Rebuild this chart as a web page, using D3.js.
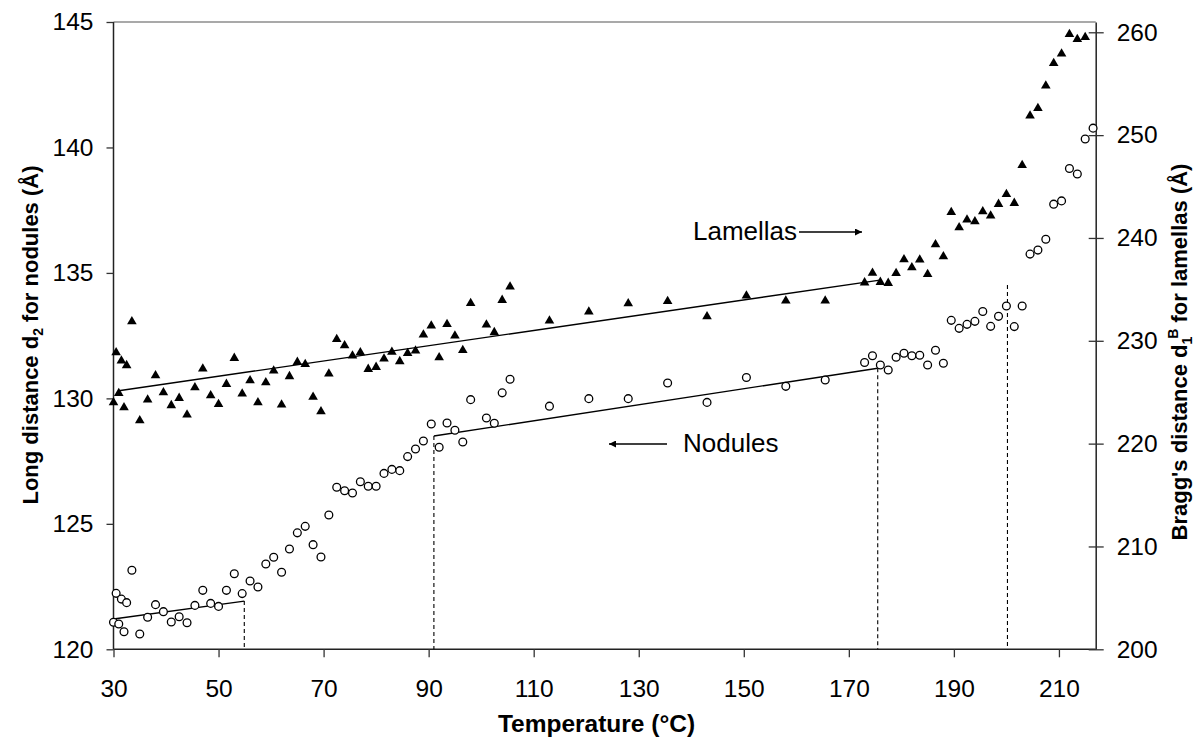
<!DOCTYPE html>
<html>
<head>
<meta charset="utf-8">
<script src="https://cdn.jsdelivr.net/npm/d3@7"></script>
<style>
  html, body { margin: 0; padding: 0; background: #fff; }
  svg { display: block; font-family: "Liberation Sans", Arial, Helvetica, sans-serif; }
</style>
</head>
<body>
<svg id="chart" width="1196" height="740"></svg>
<script>
// ---------- data ----------
const temperatures = [30, 30.5, 31, 31.5, 32, 32.5, 33.5, 35, 36.5, 38, 39.5, 41, 42.5, 44, 45.5, 47, 48.5, 50, 51.5, 53, 54.5, 56, 57.5, 59, 60.5, 62, 63.5, 65, 66.5, 68, 69.5, 71, 72.5, 74, 75.5, 77, 78.5, 80, 81.5, 83, 84.5, 86, 87.5, 89, 90.5, 92, 93.5, 95, 96.5, 98, 101, 102.5, 104, 105.5, 113, 120.5, 128, 135.5, 143, 150.5, 158, 165.5, 173, 174.5, 176, 177.5, 179, 180.5, 182, 183.5, 185, 186.5, 188, 189.5, 191, 192.5, 194, 195.5, 197, 198.5, 200, 201.5, 203, 204.5, 206, 207.5, 209, 210.5, 212, 213.5, 215, 216.5];

// Nodules: long distance d2 (left axis, Å)
const nodules = [121.08, 122.23, 121.01, 122.0, 120.70, 121.86, 123.15, 120.61, 121.28, 121.78, 121.5, 121.09, 121.3, 121.06, 121.75, 122.35, 121.83, 121.71, 122.35, 123.01, 122.22, 122.72, 122.48, 123.4, 123.67, 123.07, 124.0, 124.64, 124.9, 124.17, 123.68, 125.35, 126.46, 126.32, 126.23, 126.68, 126.5, 126.5, 127.01, 127.17, 127.12, 127.68, 127.98, 128.3, 128.98, 128.05, 129.02, 128.73, 128.26, 129.95, 129.22, 129.01, 130.22, 130.76, 129.69, 129.99, 129.99, 130.61, 129.84, 130.83, 130.48, 130.73, 131.43, 131.7, 131.33, 131.13, 131.64, 131.8, 131.7, 131.72, 131.33, 131.92, 131.4, 133.11, 132.79, 132.95, 133.07, 133.46, 132.87, 133.27, 133.68, 132.86, 133.68, 135.75, 135.91, 136.34, 137.74, 137.87, 139.16, 138.94, 140.34, 140.77];

// Lamellas: Bragg's distance d1B (right axis, Å); no value at the last temperature
const lamellas = [224.14, 229.0, 225.04, 228.19, 223.65, 227.74, 232.01, 222.39, 224.4, 226.76, 225.11, 223.85, 224.56, 222.94, 225.6, 227.42, 224.82, 223.97, 225.92, 228.45, 224.99, 226.28, 224.14, 226.08, 227.22, 223.92, 226.67, 228.06, 227.86, 224.66, 223.26, 226.93, 230.29, 229.68, 228.68, 229.0, 227.38, 227.57, 228.39, 229.05, 228.13, 228.93, 229.17, 230.72, 231.6, 228.51, 231.75, 230.62, 229.22, 233.79, 231.69, 230.95, 234.09, 235.39, 232.08, 232.96, 233.76, 233.98, 232.5, 234.51, 234.03, 234.03, 235.79, 236.73, 235.84, 235.74, 236.71, 238.04, 237.26, 238.01, 236.61, 239.5, 238.33, 242.64, 241.15, 241.9, 241.74, 242.71, 242.29, 243.42, 244.39, 243.52, 247.21, 252.01, 252.75, 254.93, 257.13, 258.04, 259.95, 259.46, 259.65, null];

// Linear fits (start/end temperature and value)
const noduleFit1 = [[30, 121.21], [54.9, 121.92]];
const noduleFit2 = [[91.0, 128.5], [175.5, 131.2]];
const lamellaFit = [[31, 225.14], [175.9, 235.9]];

// Dashed drop lines (temperature, top value on left axis)
const dropLines = [[54.9, 121.92], [91.0, 128.5], [175.5, 131.2], [200.2, 134.52]];

// Ticks
const xTicks = [30, 50, 70, 90, 110, 130, 150, 170, 190, 210];
const yLeftTicks = [120, 125, 130, 135, 140, 145];
const yRightTicks = [200, 210, 220, 230, 240, 250, 260];

// ---------- layout ----------
const svg = d3.select("#chart");
const L = 113.5, R = 1095.7, T = 22, B = 649.3;

const x = d3.scaleLinear().domain([30, 217]).range([L, R]);
const yL = d3.scaleLinear().domain([120, 145]).range([B, T]);
const yR = d3.scaleLinear().domain([200, 261]).range([B, T]);

const tickFont = "24.5px";

// top border
svg.append("line")
  .attr("x1", L).attr("x2", R).attr("y1", T).attr("y2", T)
  .attr("stroke", "#8c8c8c").attr("stroke-width", 1.5);

// axes
const gx = svg.append("g").attr("transform", `translate(0,${B})`)
  .call(d3.axisBottom(x).tickValues(xTicks).tickSizeInner(8).tickSizeOuter(0).tickPadding(22).tickFormat(d3.format("d")));
const gl = svg.append("g").attr("transform", `translate(${L},0)`)
  .call(d3.axisLeft(yL).tickValues(yLeftTicks).tickSizeInner(7).tickSizeOuter(0).tickPadding(13).tickFormat(d3.format("d")));
const gr = svg.append("g").attr("transform", `translate(${R},0)`)
  .call(d3.axisRight(yR).tickValues(yRightTicks).tickSizeInner(8).tickSizeOuter(0).tickPadding(13).tickFormat(d3.format("d")));
gr.selectAll(".tick line").attr("x1", -7);

[gx, gl, gr].forEach(g => {
  g.select(".domain").attr("stroke", "#222").attr("stroke-width", 1.5);
  g.selectAll(".tick line").attr("stroke", "#333").attr("stroke-width", 1.3);
  g.selectAll(".tick text").attr("fill", "#000").style("font-size", tickFont)
    .style("font-family", '"Liberation Sans", Arial, sans-serif');
});
gl.select(".domain").attr("d", `M0,${B}V${T}`);
gx.select(".domain").attr("d", `M${L},0H${R}`);

// dashed drop lines
svg.append("g").selectAll("line").data(dropLines).join("line")
  .attr("x1", d => x(d[0])).attr("x2", d => x(d[0]))
  .attr("y1", d => yL(d[1])).attr("y2", B)
  .attr("stroke", "#000").attr("stroke-width", 1.1).attr("stroke-dasharray", "4,3");

// fit lines
const lineL = d3.line().x(d => x(d[0])).y(d => yL(d[1]));
const lineR = d3.line().x(d => x(d[0])).y(d => yR(d[1]));
svg.append("path").attr("d", lineL(noduleFit1)).attr("fill", "none").attr("stroke", "#000").attr("stroke-width", 1.4);
svg.append("path").attr("d", lineL(noduleFit2)).attr("fill", "none").attr("stroke", "#000").attr("stroke-width", 1.4);
svg.append("path").attr("d", lineR(lamellaFit)).attr("fill", "none").attr("stroke", "#000").attr("stroke-width", 1.4);

// lamellas (triangles)
const triSize = 40;
const triH = Math.sqrt(triSize / (Math.sqrt(3) * 3)) * 3;
const lamData = temperatures.map((t, i) => ({ t, v: lamellas[i] })).filter(d => d.v != null);
svg.append("g").selectAll("path").data(lamData).join("path")
  .attr("d", d3.symbol(d3.symbolTriangle, triSize))
  .attr("transform", d => `translate(${x(d.t)},${yR(d.v) + triH / 6})`)
  .attr("fill", "#000");

// nodules (open circles)
const nodData = temperatures.map((t, i) => ({ t, v: nodules[i] }));
svg.append("g").selectAll("circle").data(nodData).join("circle")
  .attr("cx", d => x(d.t)).attr("cy", d => yL(d.v)).attr("r", 3.9)
  .attr("fill", "#fff").attr("stroke", "#000").attr("stroke-width", 1.3);

// annotations
const defs = svg.append("defs");
defs.append("marker").attr("id", "ah").attr("viewBox", "0 0 10 10")
  .attr("refX", 10).attr("refY", 5).attr("markerWidth", 10).attr("markerHeight", 7)
  .attr("markerUnits", "userSpaceOnUse").attr("orient", "auto")
  .append("path").attr("d", "M0,0L10,5L0,10Z").attr("fill", "#000");

svg.append("text").attr("x", 693).attr("y", 231).attr("dy", "0.35em")
  .style("font-size", "26px").text("Lamellas");
svg.append("line").attr("x1", 799).attr("x2", 862).attr("y1", 232).attr("y2", 232)
  .attr("stroke", "#000").attr("stroke-width", 1.3).attr("marker-end", "url(#ah)");

svg.append("text").attr("x", 683).attr("y", 443).attr("dy", "0.35em")
  .style("font-size", "26px").text("Nodules");
svg.append("line").attr("x1", 667).attr("x2", 609).attr("y1", 444).attr("y2", 444)
  .attr("stroke", "#000").attr("stroke-width", 1.3).attr("marker-end", "url(#ah)");

// axis titles
svg.append("text").attr("x", 596.5).attr("y", 732)
  .attr("text-anchor", "middle").style("font-size", "24.5px").style("font-weight", "bold")
  .text("Temperature (°C)");

const lt = svg.append("text").attr("transform", "translate(38,335) rotate(-90)")
  .attr("text-anchor", "middle").style("font-size", "22px").style("font-weight", "bold");
lt.append("tspan").text("Long distance d");
lt.append("tspan").attr("dy", 5).style("font-size", "14px").text("2");
lt.append("tspan").attr("dy", -5).text(" for nodules (Å)");

const rt = svg.append("text").attr("transform", "translate(1187,352) rotate(-90)")
  .attr("text-anchor", "middle").style("font-size", "22px").style("font-weight", "bold");
rt.append("tspan").text("Bragg's distance d");
rt.append("tspan").attr("dy", 5).style("font-size", "14px").text("1");
rt.append("tspan").attr("dy", -14).attr("dx", -2).style("font-size", "14px").text("B");
rt.append("tspan").attr("dy", 9).text(" for lamellas (Å)");
</script>
</body>
</html>
